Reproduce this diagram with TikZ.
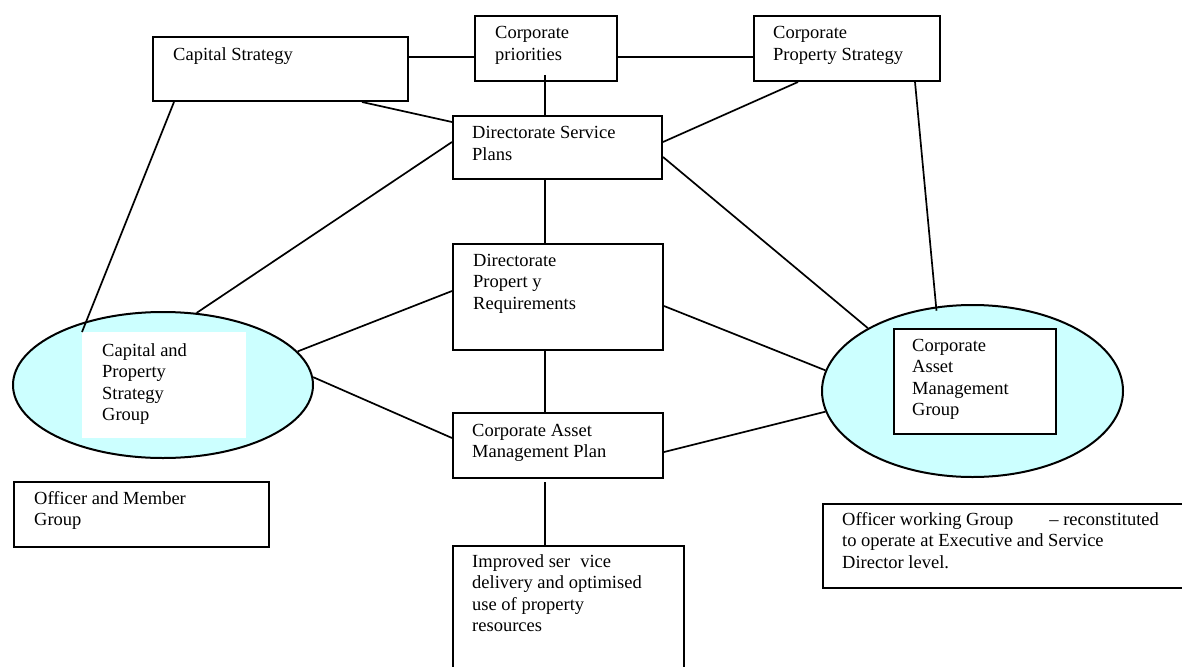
\documentclass[tikz,border=0pt]{standalone}
\usepackage{fontspec}
\setmainfont{Liberation Serif}
\usetikzlibrary{calc,shapes.geometric}
\definecolor{paleCyan}{HTML}{CCFFFF}
\newcommand\txlines[1]{\parbox[t]{330pt}{\raggedright #1}}
\tikzset{
  boxnode/.style={draw=black, line width=2pt, fill=white, rectangle, inner sep=0pt, anchor=north west},
  blob/.style={draw=black, line width=2pt, fill=paleCyan, ellipse, inner sep=0pt},
  whitepatch/.style={fill=white, draw=none, rectangle, inner sep=0pt, anchor=north west},
  txt/.style={anchor=base west, inner sep=0pt, font=\fontsize{18.5}{21.5}\selectfont},
  link/.style={draw=black, line width=1.7pt}
}
\begin{document}
\begin{tikzpicture}[x=1pt,y=-1pt]
\useasboundingbox (0,0) rectangle (1182,666);
\fill[white] (0,0) rectangle (1182,666);

% ellipses
\node[blob, minimum width=300pt, minimum height=146pt] (lell) at (163,385) {};
\node[blob, minimum width=301pt, minimum height=172pt] (rell) at (972.5,391) {};
\node[whitepatch, minimum width=164pt, minimum height=106pt] (lrect) at (82,332) {};
\node[boxnode, minimum width=162pt, minimum height=105pt] (rbox) at (893,328) {};

% boxes
\node[boxnode, minimum width=255pt, minimum height=64pt] (cs) at (152,36) {};
\node[boxnode, minimum width=142pt, minimum height=65pt] (cp) at (474,15) {};
\node[boxnode, minimum width=186pt, minimum height=65pt] (cps) at (753,15) {};
\node[boxnode, minimum width=209pt, minimum height=63pt] (dsp) at (452,115) {};
\node[boxnode, minimum width=210pt, minimum height=106pt] (dpr) at (452,243) {};
\node[boxnode, minimum width=210pt, minimum height=65pt] (camp) at (452,412) {};
\node[boxnode, minimum width=231pt, minimum height=140pt] (imp) at (452,545) {};
\node[boxnode, minimum width=255pt, minimum height=65pt] (omg) at (13,481) {};
\node[boxnode, minimum width=365pt, minimum height=84pt] (owg) at (822,503) {};

% connectors
\draw[link] ($(cs.north east)+(0,21)$) -- ($(cp.north west)+(0,42)$);
\draw[link] ($(cp.north east)+(0,42)$) -- ($(cps.north west)+(0,42)$);
\draw[link] ($(cp.south west)+(71,-7)$) -- ($(dsp.north west)+(93,0)$);
\draw[link] ($(cs.south west)+(210,0)$) -- ($(dsp.north west)+(0,7)$);
\draw[link] ($(cs.south west)+(22,0)$) -- (lrect.north west);
\draw[link] ($(dsp.north west)+(0,27)$) -- (lell.65);
\draw[link] ($(dpr.north west)+(0,48)$) -- (lell.14);
\draw[link] (lell.3) -- ($(camp.north west)+(0,26)$);
\draw[link] ($(dsp.north east)+(0,27)$) -- ($(cps.south west)+(45,0)$);
\draw[link] ($(dsp.north east)+(0,42)$) -- (rell.149);
\draw[link] ($(cps.south west)+(162,0)$) -- ($(rell.114)+(1.5,4)$);
\draw[link] ($(dpr.north east)+(0,63)$) -- (rell.172);
\draw[link] ($(camp.north east)+(0,40)$) -- (rell.188);
\draw[link] ($(dsp.south west)+(93,0)$) -- ($(dpr.north west)+(93,0)$);
\draw[link] ($(dpr.south west)+(93,0)$) -- ($(camp.north west)+(93,0)$);
\draw[link] ($(camp.south west)+(93,3)$) -- ($(imp.north west)+(93,0)$);

% texts
\node[txt] (tcs) at (173,61) {\txlines{Capital Strategy}};
\node[txt] (tcp) at (495,39) {\txlines{Corporate\\priorities}};
\node[txt] (tcps) at (773,39) {\txlines{Corporate\\Property Strategy}};
\node[txt] (tdsp) at (472,139) {\txlines{Directorate Service\\Plans}};
\node[txt] (tdpr) at (473,266) {\txlines{Directorate\\Propert y\\Requirements}};
\node[txt] (tcamp) at (472,436) {\txlines{Corporate Asset\\Management Plan}};
\node[txt] (timp) at (472,567) {\txlines{Improved ser\hspace{10pt}vice\\delivery and optimised\\use of property\\resources}};
\node[txt] (tlell) at (102,356) {\txlines{Capital and\\Property\\Strategy\\Group}};
\node[txt] (trell) at (912,351) {\txlines{Corporate\\Asset\\Management\\Group}};
\node[txt] (tomg) at (34,504) {\txlines{Officer and Member\\Group}};
\node[txt] (towg) at (842,525) {\txlines{Officer working Group\hspace{36pt}– reconstituted\\to operate at Executive and Service\\Director level.}};
\end{tikzpicture}
\end{document}
